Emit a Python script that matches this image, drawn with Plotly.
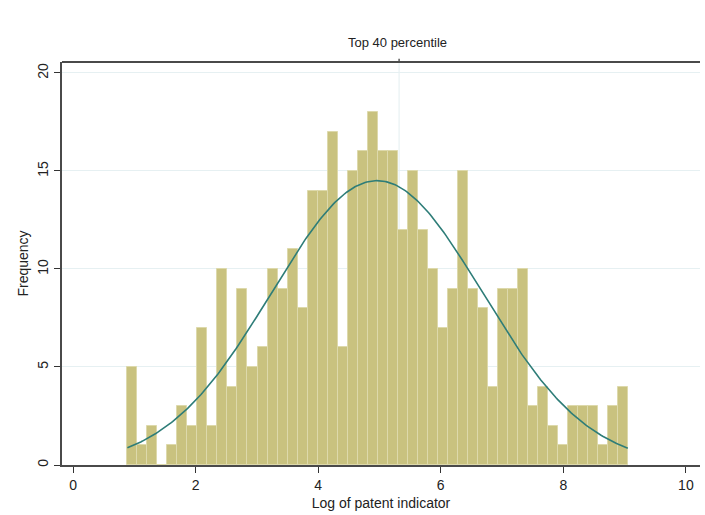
import numpy as np
import plotly.graph_objects as go

# Histogram data (50 bins)
bin_start = 0.887
bin_width = 0.1633
counts = [5, 1, 2, 0, 1, 3, 2, 7, 2, 10,
          4, 9, 5, 6, 10, 9, 11, 8, 14, 14,
          17, 6, 15, 16, 18, 16, 16, 12, 15, 12,
          10, 7, 9, 15, 9, 8, 4, 9, 9, 10,
          3, 4, 2, 1, 3, 3, 3, 1, 3, 4]
# Normal density overlay parameters
fit_mean = 4.96
fit_sd = 1.72
ref_line_x = 5.32
x_ticks = [0, 2, 4, 6, 8, 10]
y_ticks = [0, 5, 10, 15, 20]
title = "Top 40 percentile"
x_title = "Log of patent indicator"
y_title = "Frequency"

n_bins = len(counts)
centers = [bin_start + bin_width * (i + 0.5) for i in range(n_bins)]
total = sum(counts)
bin_end = bin_start + bin_width * n_bins
xs = np.linspace(bin_start, bin_end, 300)
ys = total * bin_width * np.exp(-0.5 * ((xs - fit_mean) / fit_sd) ** 2) / (fit_sd * np.sqrt(2 * np.pi))

fig = go.Figure()
fig.add_trace(go.Bar(
    x=centers, y=counts, width=bin_width,
    marker=dict(color="#c9c27f", line=dict(color="#ddd9ab", width=1)),
    hoverinfo="x+y", showlegend=False,
))
fig.add_trace(go.Scatter(
    x=xs, y=ys, mode="lines",
    line=dict(color="#2e7d78", width=1.6),
    showlegend=False, hoverinfo="skip",
))

# light reference vertical line behind bars
fig.add_shape(type="line", x0=ref_line_x, x1=ref_line_x, y0=0, y1=1, yref="paper",
              line=dict(color="#e3eef0", width=1), layer="below")
# small tick on top border
fig.add_shape(type="line", x0=ref_line_x, x1=ref_line_x, y0=1, y1=1.008, yref="paper",
              line=dict(color="#333333", width=1.2))
# top border line
fig.add_shape(type="line", x0=0, x1=1, xref="paper", y0=1, y1=1, yref="paper",
              line=dict(color="#4a4a4a", width=2))

fig.add_annotation(text=title, xref="paper", yref="paper",
                   x=(397 - 62) / (700 - 62), y=1.0, yshift=20,
                   showarrow=False, font=dict(size=13, color="#222222"),
                   xanchor="center", yanchor="middle")

font_family = "Liberation Sans, Arial, sans-serif"
fig.update_layout(
    width=705, height=515,
    margin=dict(l=62, r=5, t=62, b=50),
    paper_bgcolor="white", plot_bgcolor="white",
    font=dict(family=font_family, size=12, color="#222222"),
    bargap=0,
    xaxis=dict(
        range=[-0.18, 10.23], tickvals=x_ticks, ticktext=[str(v) for v in x_ticks],
        ticks="outside", ticklen=6, tickwidth=1.2, tickcolor="#333333",
        showline=True, linecolor="#4a4a4a", linewidth=2,
        showgrid=False, zeroline=False,
        title=dict(text=x_title, font=dict(size=14), standoff=6),
        tickfont=dict(size=14),
    ),
    yaxis=dict(
        range=[0, 20.56], tickvals=y_ticks, ticktext=[str(v) for v in y_ticks],
        tickangle=-90,
        ticks="outside", ticklen=6, tickwidth=1.2, tickcolor="#333333",
        showline=True, linecolor="#4a4a4a", linewidth=2,
        showgrid=True, gridcolor="#e6f0f2", gridwidth=1,
        zeroline=False,
        title=dict(text=y_title, font=dict(size=14), standoff=4),
        tickfont=dict(size=14),
    ),
)

fig.write_html("out.html")
